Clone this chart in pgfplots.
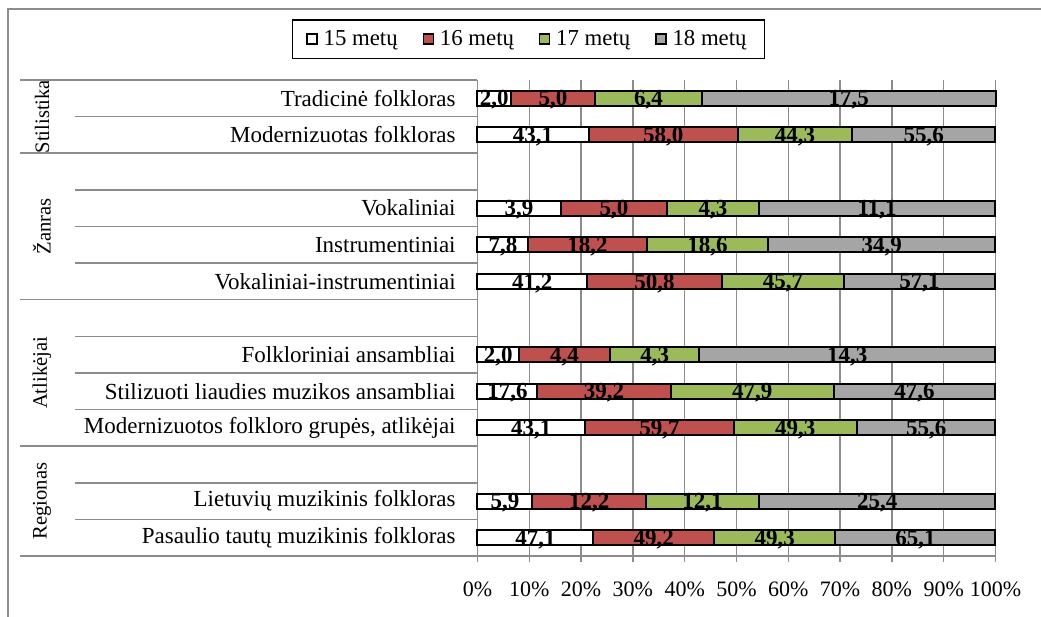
\documentclass[border=0pt]{standalone}
\usepackage{fontspec}
\setmainfont{Liberation Serif}
\usepackage{pgfplots}
\usepackage{pgfplotstable}
\pgfplotsset{compat=1.18}

\definecolor{c16}{RGB}{192,80,77}
\definecolor{c17}{RGB}{155,187,89}
\definecolor{c18}{RGB}{165,165,165}
\definecolor{gridc}{RGB}{140,140,140}

% a = 15 metu, b = 16 metu, c = 17 metu, d = 18 metu
\pgfplotstableread{
y a b c d
1 2.0 5.0 6.4 17.5
2 43.1 58.0 44.3 55.6
4 3.9 5.0 4.3 11.1
5 7.8 18.2 18.6 34.9
6 41.2 50.8 45.7 57.1
8 2.0 4.4 4.3 14.3
9 17.6 39.2 47.9 47.6
10 43.1 59.7 49.3 55.6
12 5.9 12.2 12.1 25.4
13 47.1 49.2 49.3 65.1
}\datatable

\newcommand{\tot}{(\thisrow{a}+\thisrow{b}+\thisrow{c}+\thisrow{d})}

\begin{document}
\begin{tikzpicture}
\useasboundingbox (0,0) rectangle (520.5pt,308.5pt);
\draw[gridc, line width=0.6pt] (4pt,0) -- (4pt,304pt) -- (520.5pt,304pt);

\begin{axis}[
  at={(238.75pt,30.5pt)}, anchor=south west,
  scale only axis, width=259pt, height=238pt,
  xbar stacked, bar width=7.5pt,
  xmin=0, xmax=100, ymin=0.5, ymax=13.5, y dir=reverse,
  clip=false,
  axis x line*=bottom, axis y line*=left,
  axis line style={gridc, line width=0.75pt},
  xtick={0,10,...,100},
  xticklabels={0\%,10\%,20\%,30\%,40\%,50\%,60\%,70\%,80\%,90\%,100\%},
  xmajorgrids, major grid style={gridc, line width=0.75pt},
  x tick style={gridc, line width=0.75pt},
  tick align=outside, major tick length=3pt,
  xticklabel style={font=\fontsize{11}{13}\selectfont, anchor=center, yshift=-13.5pt},
  ytick={1,2,4,5,6,8,9,10,12,13},
  yticklabels={Tradicinė folkloras, Modernizuotas folkloras, Vokaliniai, Instrumentiniai, Vokaliniai-instrumentiniai, Folkloriniai ansambliai, Stilizuoti liaudies muzikos ansambliai, {Modernizuotos folkloro grupės, atlikėjai}, Lietuvių muzikinis folkloras, Pasaulio tautų muzikinis folkloras},
  y tick style={draw=none},
  yticklabel style={font=\fontsize{11.5}{13}\selectfont, inner sep=0pt, xshift=-7.75pt},
  legend columns=4,
  legend style={at={(axis description cs:0.0985,1.086)}, anchor=center,
    draw=black, line width=0.6pt, font=\fontsize{11.4}{13}\selectfont,
    inner xsep=7pt, inner ysep=3pt,
    /tikz/every odd column/.append style={column sep=1pt},
    /tikz/every even column/.append style={column sep=10.5pt}},
  legend image code/.code={\draw[#1, draw=black, line width=0.6pt] (0pt,-2.5pt) rectangle (5pt,2.5pt);},
]
\addplot[fill=white, draw=black, line width=1pt] table[y=y, x expr={100*\thisrow{a}/\tot}] {\datatable};
\addlegendentry{15 metų}
\addplot[fill=c16, draw=black, line width=1pt] table[y=y, x expr={100*\thisrow{b}/\tot}] {\datatable};
\addlegendentry{16 metų}
\addplot[fill=c17, draw=black, line width=1pt] table[y=y, x expr={100*\thisrow{c}/\tot}] {\datatable};
\addlegendentry{17 metų}
\addplot[fill=c18, draw=black, line width=1pt] table[y=y, x expr={100*\thisrow{d}/\tot}] {\datatable};
\addlegendentry{18 metų}

\pgfplotsinvokeforeach{1.5,3.5,4.5,5.5,7.5,8.5,9.5,11.5,12.5}{
  \draw[gridc, line width=0.75pt] ([xshift=-201.25pt]axis cs:0,#1) -- (axis cs:0,#1);
}
\pgfplotsinvokeforeach{0.5,2.5,6.5,10.5,13.5}{
  \draw[gridc, line width=0.75pt] ([xshift=-228.5pt]axis cs:0,#1) -- (axis cs:0,#1);
}
\node[rotate=90, font=\fontsize{10.3}{12}\selectfont] at ([xshift=-217.75pt]axis cs:0,1.5) {Stilistika};
\node[rotate=90, font=\fontsize{10.3}{12}\selectfont] at ([xshift=-217.75pt]axis cs:0,4.5) {Žanras};
\node[rotate=90, font=\fontsize{10.3}{12}\selectfont] at ([xshift=-217.75pt]axis cs:0,8.5) {Atlikėjai};
\node[rotate=90, font=\fontsize{10.3}{12}\selectfont] at ([xshift=-217.75pt]axis cs:0,12) {Regionas};
\end{axis}

\begin{axis}[
  at={(238.75pt,30.5pt)}, anchor=south west,
  scale only axis, width=259pt, height=238pt,
  xmin=0, xmax=100, ymin=0.5, ymax=13.5, y dir=reverse,
  hide axis, clip=false,
  /pgf/number format/.cd, use comma, fixed, fixed zerofill, precision=1, assume math mode=true,
  /pgfplots/.cd,
  point meta=explicit,
  nodes near coords,
  every node near coord/.append style={font=\bfseries\fontsize{11.5}{13}\selectfont, anchor=center, inner sep=0pt, text depth=0pt},
  labelplot/.style={only marks, mark=text, text mark={}},
]
\addplot[labelplot] table[y=y, meta=a, x expr={50*\thisrow{a}/\tot}] {\datatable};
\addplot[labelplot] table[y=y, meta=b, x expr={100*(\thisrow{a}+0.5*\thisrow{b})/\tot}] {\datatable};
\addplot[labelplot] table[y=y, meta=c, x expr={100*(\thisrow{a}+\thisrow{b}+0.5*\thisrow{c})/\tot}] {\datatable};
\addplot[labelplot] table[y=y, meta=d, x expr={100*(\thisrow{a}+\thisrow{b}+\thisrow{c}+0.5*\thisrow{d})/\tot}] {\datatable};
\end{axis}
\end{tikzpicture}
\end{document}
